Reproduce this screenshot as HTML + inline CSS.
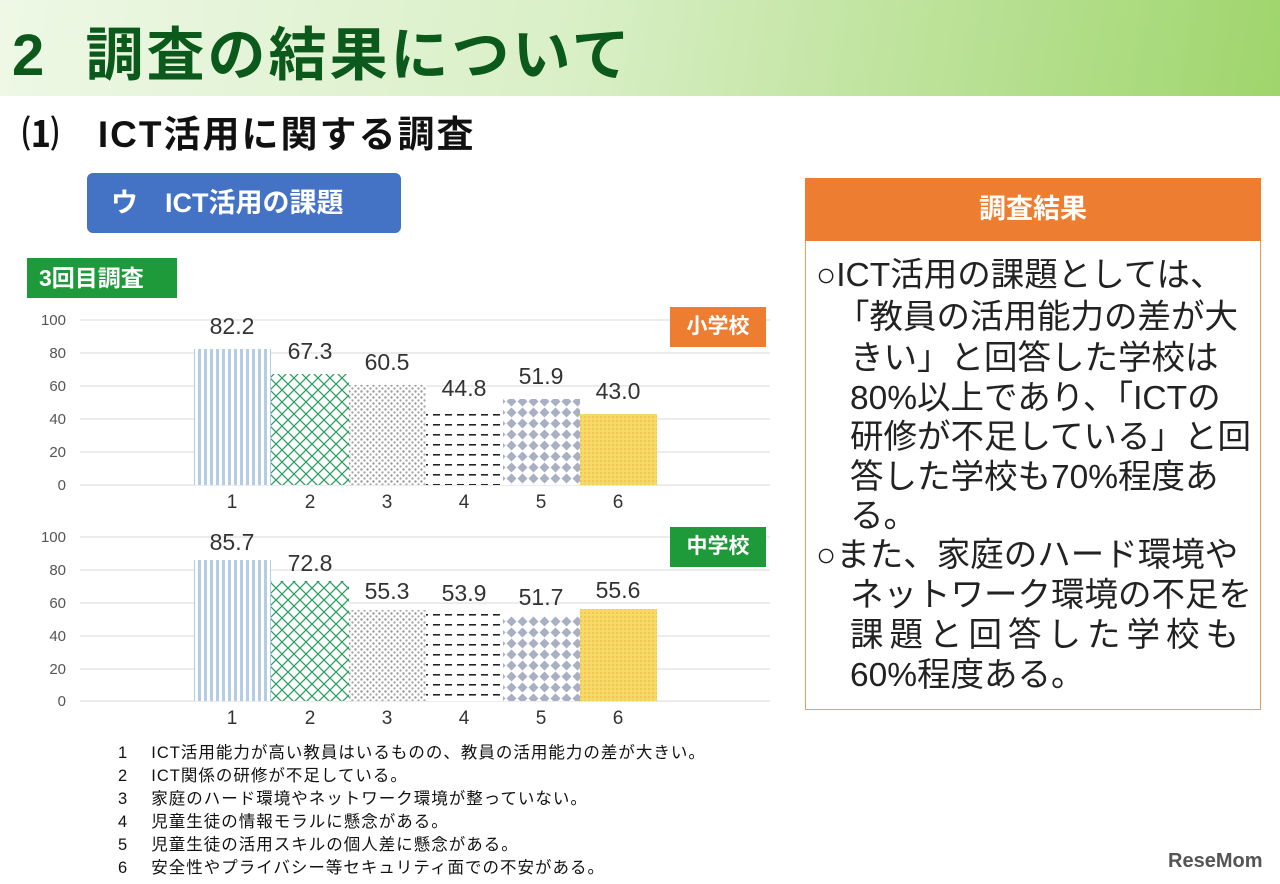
<!DOCTYPE html>
<html><head><meta charset="utf-8"><style>
body{margin:0;width:1280px;height:884px;overflow:hidden;background:#fff;position:relative;font-family:"Liberation Sans","Noto Sans CJK JP",sans-serif}
.a{position:absolute;white-space:nowrap}
.rt{font-size:33.5px;color:#222;line-height:40px}
.lg{font-size:16.5px;color:#111;line-height:22px;letter-spacing:1px}
</style></head><body>
<div class="a" style="left:0;top:0;width:1280px;height:96px;background:linear-gradient(100deg,#eef8e6 0%,#d9efc6 45%,#9fd56c 100%)"></div>
<div class="a" style="left:12px;top:8px;font-size:58px;font-weight:bold;color:#0b5a1c;letter-spacing:3px">2&nbsp;&nbsp;調査の結果について</div>
<div class="a" style="left:22px;top:104px;font-size:37px;font-weight:bold;color:#111;letter-spacing:2px">⑴&nbsp;&nbsp;&nbsp;ICT活用に関する調査</div>
<div class="a" style="left:87px;top:173px;width:314px;height:60px;background:#4472c4;border-radius:6px;color:#fff;font-size:27px;font-weight:bold;line-height:60px;text-indent:24px">ウ　ICT活用の課題</div>
<div class="a" style="left:27px;top:258px;width:150px;height:40px;background:#1e9a3a;color:#fff;font-size:23px;font-weight:bold;line-height:40px;text-indent:12px">3回目調査</div>

<svg class="a" style="left:0;top:0" width="800" height="740" font-family="Liberation Sans, sans-serif">
<defs>
<pattern id="p1" width="6" height="10" patternUnits="userSpaceOnUse"><rect width="6" height="10" fill="#fff"/><rect x="0" width="3" height="10" fill="#b4cde3"/></pattern>
<pattern id="p2" width="12" height="12" patternUnits="userSpaceOnUse"><rect width="12" height="12" fill="#fff"/><path d="M0 0L12 12M12 0L0 12" stroke="#2aa060" stroke-width="1.3"/></pattern>
<pattern id="p3" width="6" height="6" patternUnits="userSpaceOnUse"><rect width="6" height="6" fill="#fff"/><circle cx="1.5" cy="1.5" r="1.2" fill="#999"/><circle cx="4.5" cy="4.5" r="1.2" fill="#aaa"/></pattern>
<pattern id="p4" width="12" height="10" patternUnits="userSpaceOnUse"><rect width="12" height="10" fill="#fff"/><rect x="1" y="4" width="7" height="1.6" fill="#222"/></pattern>
<pattern id="p5" width="11" height="11" patternUnits="userSpaceOnUse"><rect width="11" height="11" fill="#fff"/><path d="M5.5 0.5L10.5 5.5L5.5 10.5L0.5 5.5Z" fill="#aab0c4"/></pattern>
<pattern id="p6" width="4" height="4" patternUnits="userSpaceOnUse"><rect width="4" height="4" fill="#f7d86a"/><rect width="2" height="2" fill="#f0c850"/></pattern>
</defs>
<g stroke="#d9d9d9" stroke-width="1">
<line x1="80" x2="770" y1="320" y2="320"/><line x1="80" x2="770" y1="353" y2="353"/><line x1="80" x2="770" y1="386" y2="386"/><line x1="80" x2="770" y1="419" y2="419"/><line x1="80" x2="770" y1="452" y2="452"/><line x1="80" x2="770" y1="485" y2="485"/>
<line x1="80" x2="770" y1="537" y2="537"/><line x1="80" x2="770" y1="570" y2="570"/><line x1="80" x2="770" y1="603" y2="603"/><line x1="80" x2="770" y1="636" y2="636"/><line x1="80" x2="770" y1="669" y2="669"/><line x1="80" x2="770" y1="701" y2="701"/>
</g>
<g font-size="15" fill="#555" text-anchor="end">
<text x="66" y="325">100</text><text x="66" y="358">80</text><text x="66" y="391">60</text><text x="66" y="424">40</text><text x="66" y="457">20</text><text x="66" y="490">0</text>
<text x="66" y="542">100</text><text x="66" y="575">80</text><text x="66" y="608">60</text><text x="66" y="641">40</text><text x="66" y="674">20</text><text x="66" y="706">0</text>
</g>
<rect x="194" y="349" width="77" height="136" fill="url(#p1)"/>
<rect x="271" y="374" width="78" height="111" fill="url(#p2)"/>
<rect x="349" y="385" width="77" height="100" fill="url(#p3)"/>
<rect x="426" y="411" width="77" height="74" fill="url(#p4)"/>
<rect x="503" y="399" width="77" height="86" fill="url(#p5)"/>
<rect x="580" y="414" width="77" height="71" fill="url(#p6)"/>
<rect x="194" y="560" width="77" height="141" fill="url(#p1)"/>
<rect x="271" y="581" width="78" height="120" fill="url(#p2)"/>
<rect x="349" y="610" width="77" height="91" fill="url(#p3)"/>
<rect x="426" y="612" width="77" height="89" fill="url(#p4)"/>
<rect x="503" y="616" width="77" height="85" fill="url(#p5)"/>
<rect x="580" y="609" width="77" height="92" fill="url(#p6)"/>
<g font-size="23" fill="#333" text-anchor="middle">
<text x="232" y="334">82.2</text><text x="310" y="359">67.3</text><text x="387" y="370">60.5</text><text x="464" y="396">44.8</text><text x="541" y="384">51.9</text><text x="618" y="399">43.0</text>
<text x="232" y="550">85.7</text><text x="310" y="571">72.8</text><text x="387" y="599">55.3</text><text x="464" y="601">53.9</text><text x="541" y="605">51.7</text><text x="618" y="598">55.6</text>
</g>
<g font-size="19" fill="#333" text-anchor="middle">
<text x="232" y="508">1</text><text x="310" y="508">2</text><text x="387" y="508">3</text><text x="464" y="508">4</text><text x="541" y="508">5</text><text x="618" y="508">6</text>
<text x="232" y="724">1</text><text x="310" y="724">2</text><text x="387" y="724">3</text><text x="464" y="724">4</text><text x="541" y="724">5</text><text x="618" y="724">6</text>
</g>
</svg>
<div class="a" style="left:670px;top:307px;width:96px;height:40px;background:#ed7d31;color:#fff;font-size:21px;font-weight:bold;line-height:40px;text-align:center">小学校</div>
<div class="a" style="left:670px;top:527px;width:96px;height:40px;background:#1e9a3a;color:#fff;font-size:21px;font-weight:bold;line-height:40px;text-align:center">中学校</div>

<div class="a lg" style="left:118px;top:742px">1　 ICT活用能力が高い教員はいるものの、教員の活用能力の差が大きい。</div>
<div class="a lg" style="left:118px;top:765px">2　 ICT関係の研修が不足している。</div>
<div class="a lg" style="left:118px;top:788px">3　 家庭のハード環境やネットワーク環境が整っていない。</div>
<div class="a lg" style="left:118px;top:811px">4　 児童生徒の情報モラルに懸念がある。</div>
<div class="a lg" style="left:118px;top:834px">5　 児童生徒の活用スキルの個人差に懸念がある。</div>
<div class="a lg" style="left:118px;top:857px">6　 安全性やプライバシー等セキュリティ面での不安がある。</div>

<div class="a" style="left:805px;top:178px;width:454px;height:530px;border:1.5px solid #ed9a5c"></div>
<div class="a" style="left:805px;top:178px;width:456px;height:63px;background:#ed7d31;color:#fff;font-size:27px;font-weight:bold;line-height:63px;text-align:center">調査結果</div>
<div class="a rt" style="left:816px;top:256px">○ICT活用の課題としては、</div>
<div class="a rt" style="left:836px;top:298px">「教員の活用能力の差が大</div>
<div class="a rt" style="left:850px;top:339px">きい」と回答した学校は</div>
<div class="a rt" style="left:850px;top:379px">80%以上であり、「ICTの</div>
<div class="a rt" style="left:850px;top:418px">研修が不足している」と回</div>
<div class="a rt" style="left:850px;top:458px">答した学校も70%程度あ</div>
<div class="a rt" style="left:850px;top:497px">る。</div>
<div class="a rt" style="left:816px;top:536px">○また、家庭のハード環境や</div>
<div class="a rt" style="left:850px;top:576px">ネットワーク環境の不足を</div>
<div class="a rt" style="left:850px;top:616px;letter-spacing:6px">課題と回答した学校も</div>
<div class="a rt" style="left:850px;top:656px">60%程度ある。</div>
<div class="a" style="left:1168px;top:850px;font-size:20px;font-weight:bold;color:#555">ReseMom</div>
</body></html>
